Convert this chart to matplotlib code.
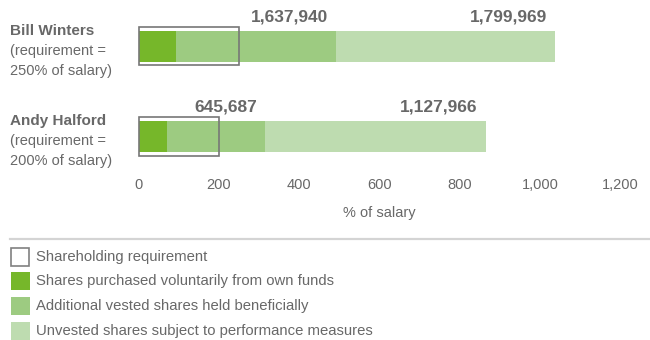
import numpy as np
import matplotlib.pyplot as plt
from matplotlib.patches import Rectangle

plt.rcParams['font.family'] = ['Liberation Sans', 'DejaVu Sans']

# shareholding as % of salary
names = ["Bill Winters", "Andy Halford"]
requirement = [250, 200]
purchased = [93, 70]      # shares purchased voluntarily
vested = [399, 245]       # additional vested shares held beneficially
unvested = [546, 549]     # unvested shares subject to performance
held_label = ["1,637,940", "645,687"]
total_label = ["1,799,969", "1,127,966"]

legend_text = ["Shareholding requirement",
               "Shares purchased voluntarily from own funds",
               "Additional vested shares held beneficially",
               "Unvested shares subject to performance measures"]

dark = '#76b72a'
mid = '#9dcb81'
light = '#bedcb0'
grey = '#686868'
W, H = 650, 340

fig = plt.figure(figsize=(W/100, H/100), dpi=100)

# overlay in pixel coords for the text block and legend
bg = fig.add_axes([0, 0, 1, 1])
bg.set_xlim(0, W)
bg.set_ylim(H, 0)
bg.axis('off')

ax = fig.add_axes([138.5/W, 1 - 170/H, 482/W, 170/H])
ax.set_xlim(0, 1200)
ax.set_ylim(170, 0)
ypos = np.array([46.2, 136.4])
bh = 31

purchased = np.array(purchased)
vested = np.array(vested)
unvested = np.array(unvested)
ax.barh(ypos, purchased, height=bh, color=dark, lw=0)
ax.barh(ypos, vested, left=purchased, height=bh, color=mid, lw=0)
ax.barh(ypos, unvested, left=purchased + vested, height=bh, color=light, lw=0)

for i in range(len(names)):
    ax.add_patch(Rectangle((0, ypos[i] - 19.2), requirement[i], 38.4, fill=False,
                           edgecolor='#777777', lw=1.2, zorder=5, clip_on=False))
    held = purchased[i] + vested[i]
    total = held + unvested[i]
    for x, s in [(held, held_label[i]), (total, total_label[i])]:
        ax.annotate(s, (x, ypos[i] - bh/2), xytext=(-6, 10), textcoords='offset points',
                    ha='right', va='center', fontsize=12.5, fontweight='bold', color=grey)

    y0 = ypos[i] - 15.5
    bg.text(10, y0, names[i], fontsize=11, fontweight='bold', color=grey, va='center')
    bg.text(10, y0 + 20, "(requirement =", fontsize=10.5, color=grey, va='center')
    bg.text(10, y0 + 40, f"{requirement[i]}% of salary)", fontsize=10.5, color=grey, va='center')

ticks = np.arange(0, 1201, 200)
ax.set_xticks(ticks)
ax.set_xticklabels([f"{t:,}" for t in ticks])
ax.set_yticks([])
ax.tick_params(axis='x', length=0, pad=5.8, labelsize=10.5, labelcolor=grey)
for s in ax.spines.values():
    s.set_visible(False)
ax.set_xlabel("% of salary", fontsize=10.5, color=grey, labelpad=10)

# legend
bg.plot([10, W], [239, 239], color='#d4d4d4', lw=1.6)
rows = [256.5, 281.3, 306, 330.7]
fills = [None, dark, mid, light]
for y, c, t in zip(rows, fills, legend_text):
    if c is None:
        bg.add_patch(Rectangle((11, y - 9), 18, 18, fill=False, edgecolor='#808080', lw=1.2))
    else:
        bg.add_patch(Rectangle((10.5, y - 9), 19, 18, color=c, lw=0))
    bg.text(36.5, y, t, fontsize=10.7, color=grey, va='center')

fig.savefig('out.png', dpi=100)
